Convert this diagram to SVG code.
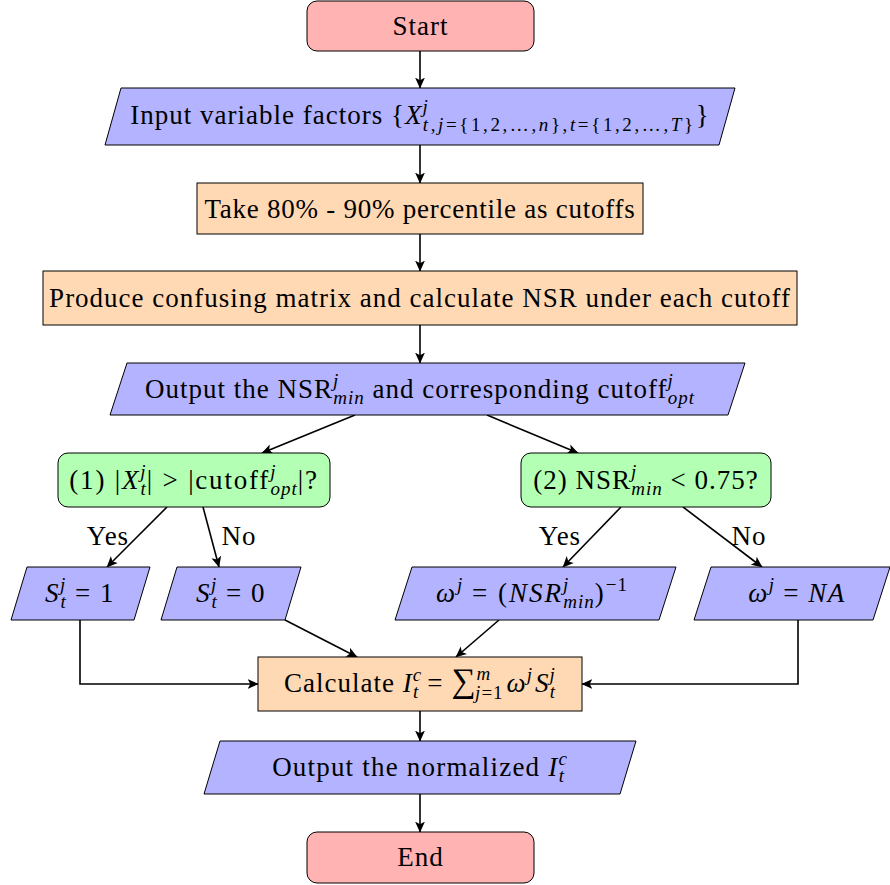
<svg xmlns="http://www.w3.org/2000/svg" width="890" height="885" viewBox="0 0 890 885">
<style>
.red{fill:#FFB3B3;stroke:#000;stroke-width:1}
.blue{fill:#B3B3FF;stroke:#000;stroke-width:1}
.orange{fill:#FFD9B3;stroke:#000;stroke-width:1}
.green{fill:#B3FFB3;stroke:#000;stroke-width:1}
text{font-family:"Liberation Serif","DejaVu Serif",serif;font-size:27px;letter-spacing:1px;fill:#000}
.c{text-anchor:middle}
.i{font-style:italic}
.s{font-size:19px;letter-spacing:1px}
.e{fill:none;stroke:#000;stroke-width:1.6}
</style>
<defs>
<marker id="arr" viewBox="0 0 10 10" refX="9.5" refY="5" markerWidth="11" markerHeight="11" orient="auto" markerUnits="userSpaceOnUse">
<path d="M0,0.5 L10,5 L0,9.5 L2.5,5 z" fill="#000"/>
</marker>
</defs>

<g id="connectors">
<line class="e" x1="420" y1="51" x2="420" y2="88" marker-end="url(#arr)"/>
<line class="e" x1="420" y1="145" x2="420" y2="183" marker-end="url(#arr)"/>
<line class="e" x1="420" y1="234" x2="420" y2="271" marker-end="url(#arr)"/>
<line class="e" x1="420" y1="325" x2="420" y2="363" marker-end="url(#arr)"/>
<line class="e" x1="355" y1="415" x2="262" y2="453" marker-end="url(#arr)"/>
<line class="e" x1="487" y1="415" x2="578" y2="453" marker-end="url(#arr)"/>
<line class="e" x1="167" y1="507" x2="107" y2="567" marker-end="url(#arr)"/>
<line class="e" x1="203" y1="507" x2="219" y2="567" marker-end="url(#arr)"/>
<line class="e" x1="621" y1="507" x2="563" y2="567" marker-end="url(#arr)"/>
<line class="e" x1="683" y1="507" x2="762" y2="567" marker-end="url(#arr)"/>
<polyline class="e" points="80,620 80,684 258,684" marker-end="url(#arr)"/>
<line class="e" x1="285" y1="620" x2="357" y2="657" marker-end="url(#arr)"/>
<line class="e" x1="499" y1="620" x2="456" y2="657" marker-end="url(#arr)"/>
<polyline class="e" points="798,620 798,684 582,684" marker-end="url(#arr)"/>
<line class="e" x1="420" y1="711" x2="420" y2="741" marker-end="url(#arr)"/>
<line class="e" x1="420" y1="794" x2="420" y2="832" marker-end="url(#arr)"/>
<text class="c" x="108" y="545">Yes</text>
<text class="c" x="239" y="545">No</text>
<text class="c" x="560" y="545">Yes</text>
<text class="c" x="749" y="545">No</text>
</g>

<g id="start">
<rect class="red" x="307" y="1" width="227" height="50" rx="10"/>
<text class="c" x="420.5" y="35">Start</text>
</g>

<g id="input">
<polygon class="blue" points="121,88 735,88 719,145 105,145"/>
<text class="c" x="420" y="124">Input variable factors {<tspan class="i">X</tspan><tspan class="i s" dy="-11">j</tspan><tspan class="s" dx="-6" dy="18" style="letter-spacing:2.6px"><tspan class="i">t</tspan>,<tspan class="i">j</tspan>={1,2,…,<tspan class="i">n</tspan>},<tspan class="i">t</tspan>={1,2,…,<tspan class="i">T</tspan>}</tspan><tspan dy="-7">}</tspan></text>
</g>

<g id="take">
<rect class="orange" x="197" y="183" width="446" height="51"/>
<text class="c" x="420" y="218" style="letter-spacing:0.75px">Take 80% - 90% percentile as cutoffs</text>
</g>

<g id="produce">
<rect class="orange" x="43" y="271" width="754" height="54"/>
<text class="c" x="420" y="307">Produce confusing matrix and calculate NSR under each cutoff</text>
</g>

<g id="outnsr">
<polygon class="blue" points="127,363 745,363 728,415 110,415"/>
<text class="c" x="420" y="398">Output the NSR<tspan class="i s" dy="-11">j</tspan><tspan class="i s" dx="-6" dy="17">min</tspan><tspan dy="-6"> and corresponding cutoff</tspan><tspan class="i s" dy="-11">j</tspan><tspan class="i s" dx="-6" dy="17">opt</tspan></text>
</g>

<g id="dec1">
<rect class="green" x="58" y="453" width="272" height="54" rx="10"/>
<text class="c" x="194" y="489" style="letter-spacing:1.8px">(1) |<tspan class="i">X</tspan><tspan class="i s" dy="-11">j</tspan><tspan class="i s" dx="-6" dy="17">t</tspan><tspan dy="-6">| &gt; |cutoff</tspan><tspan class="i s" dy="-11">j</tspan><tspan class="i s" dx="-6" dy="17">opt</tspan><tspan dy="-6">|?</tspan></text>
</g>

<g id="dec2">
<rect class="green" x="521" y="453" width="250" height="54" rx="10"/>
<text class="c" x="646" y="489">(2) NSR<tspan class="i s" dy="-11">j</tspan><tspan class="i s" dx="-6" dy="17">min</tspan><tspan dy="-6"> &lt; 0.75?</tspan></text>
</g>

<g id="s1">
<polygon class="blue" points="27,567 150,567 134,620 11,620"/>
<text class="c" x="80" y="602" style="letter-spacing:1.5px"><tspan class="i">S</tspan><tspan class="i s" dy="-11">j</tspan><tspan class="i s" dx="-6" dy="17">t</tspan><tspan dy="-6"> = 1</tspan></text>
</g>

<g id="s0">
<polygon class="blue" points="177,567 301,567 285,620 161,620"/>
<text class="c" x="231" y="602" style="letter-spacing:1.5px"><tspan class="i">S</tspan><tspan class="i s" dy="-11">j</tspan><tspan class="i s" dx="-6" dy="17">t</tspan><tspan dy="-6"> = 0</tspan></text>
</g>

<g id="w1">
<polygon class="blue" points="412,567 676,567 659,620 395,620"/>
<text class="c" x="532" y="602" style="letter-spacing:2px"><tspan class="i">ω</tspan><tspan class="i s" dy="-11">j</tspan><tspan dy="11"> = (</tspan><tspan class="i">NSR</tspan><tspan class="i s" dy="-11">j</tspan><tspan class="i s" dx="-6" dy="17">min</tspan><tspan dy="-6">)</tspan><tspan class="s" dy="-11">−1</tspan></text>
</g>

<g id="wna">
<polygon class="blue" points="711,567 890,567 873,620 694,620"/>
<text class="c" x="797" y="602" style="letter-spacing:1.5px"><tspan class="i">ω</tspan><tspan class="i s" dy="-11">j</tspan><tspan dy="11"> = </tspan><tspan class="i">NA</tspan></text>
</g>

<g id="calc">
<rect class="orange" x="258" y="657" width="324" height="54"/>
<text class="c" x="420" y="692">Calculate <tspan class="i">I</tspan><tspan class="i s" dy="-11">c</tspan><tspan class="i s" dx="-9" dy="17">t</tspan><tspan dy="-6"> = </tspan><tspan style="font-size:34px">∑</tspan><tspan class="i s" dy="-12">m</tspan><tspan class="s" dx="-16" dy="19"><tspan class="i">j</tspan>=1</tspan><tspan class="i" dy="-7" dx="3">ω</tspan><tspan class="i s" dy="-11">j</tspan><tspan class="i" dy="11" dx="2">S</tspan><tspan class="i s" dy="-11">j</tspan><tspan class="i s" dx="-6" dy="17">t</tspan></text>
</g>

<g id="outnorm">
<polygon class="blue" points="220,741 636,741 620,794 204,794"/>
<text class="c" x="420" y="776" style="letter-spacing:1.2px">Output the normalized <tspan class="i">I</tspan><tspan class="i s" dy="-11">c</tspan><tspan class="i s" dx="-9" dy="17">t</tspan></text>
</g>

<g id="end">
<rect class="red" x="307" y="832" width="227" height="51" rx="10"/>
<text class="c" x="420.5" y="866">End</text>
</g>
</svg>
